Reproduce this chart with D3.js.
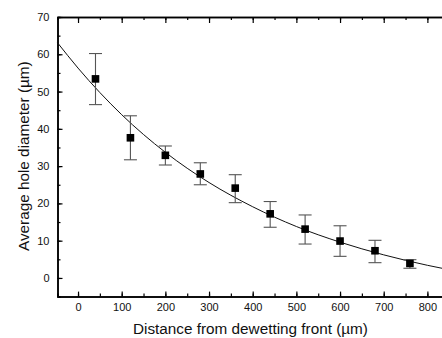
<!DOCTYPE html>
<html>
<head>
<meta charset="utf-8">
<script src="https://cdn.jsdelivr.net/npm/d3@7"></script>
<style>
  body { margin: 0; background: #fff; }
  svg { display: block; font-family: "Liberation Sans", Arial, sans-serif; }
</style>
</head>
<body>
<div id="chart"></div>
<script>
// measured points
const distance = [40, 120, 200, 280, 360, 440, 520, 600, 680, 760];
const diameter = [53.4, 37.6, 32.9, 27.9, 24.1, 17.2, 13.1, 9.9, 7.3, 3.9];
const errLow = [46.5, 31.7, 30.3, 25.0, 20.2, 13.6, 9.1, 5.8, 4.1, 2.6];
const errHigh = [60.2, 43.5, 35.4, 30.9, 27.7, 20.5, 16.9, 14.0, 10.1, 4.9];

// fitted curve
const fitX = [-47, 0, 100, 200, 300, 400, 500, 600, 700, 800, 850];
const fitY = [63.1, 56.3, 43.8, 33.7, 25.6, 19.1, 13.8, 9.6, 6.2, 3.4, 2.2];

const xTicks = [0, 100, 200, 300, 400, 500, 600, 700, 800];
const yTicks = [0, 10, 20, 30, 40, 50, 60, 70];

const width = 442, height = 338;
const plotLeft = 57.5, plotTop = 17, plotBottom = 296.6;

const svg = d3.select('#chart').append('svg')
  .attr('width', width).attr('height', height);

const x = d3.scaleLinear().domain([-47, 850]).range([plotLeft, plotLeft + 897 * 0.4367]);
const y = d3.scaleLinear().domain([-5, 70]).range([plotBottom, plotTop]);

const minorX = d3.range(-50, 851, 50).filter(v => v > -47);
const minorY = d3.range(-5, 71, 5);

function styleAxis(g) {
  g.select('.domain').attr('stroke', '#000').attr('stroke-width', 1.5);
  g.selectAll('.tick line').attr('stroke', '#000').attr('stroke-width', 1.2);
  g.selectAll('text').attr('font-size', '11px').attr('fill', '#111')
    .attr('font-family', '"Liberation Sans", Arial, sans-serif');
}

// minor ticks first
svg.append('g').attr('transform', `translate(0,${plotBottom})`)
  .call(d3.axisBottom(x).tickValues(minorX).tickSize(-3).tickFormat(''))
  .call(styleAxis);
svg.append('g').attr('transform', `translate(0,${plotTop})`)
  .call(d3.axisBottom(x).tickValues(minorX).tickSize(3).tickFormat(''))
  .call(styleAxis);
svg.append('g').attr('transform', `translate(${plotLeft},0)`)
  .call(d3.axisLeft(y).tickValues(minorY).tickSize(-3).tickFormat(''))
  .call(styleAxis);

// major ticks
svg.append('g').attr('transform', `translate(0,${plotBottom})`)
  .call(d3.axisBottom(x).tickValues(xTicks).tickSizeInner(-5).tickSizeOuter(0).tickPadding(7))
  .call(styleAxis);
svg.append('g').attr('transform', `translate(0,${plotTop})`)
  .call(d3.axisBottom(x).tickValues(xTicks).tickSizeInner(6).tickSizeOuter(0).tickFormat(''))
  .call(styleAxis);
svg.append('g').attr('transform', `translate(${plotLeft},0)`)
  .call(d3.axisLeft(y).tickValues(yTicks).tickSizeInner(-5).tickSizeOuter(0).tickPadding(8))
  .call(styleAxis);

// fit curve
const fit = fitX.map((v, i) => [v, fitY[i]]);
svg.append('path')
  .datum(fit)
  .attr('fill', 'none')
  .attr('stroke', '#111')
  .attr('stroke-width', 1)
  .attr('d', d3.line().x(d => x(d[0])).y(d => y(d[1])).curve(d3.curveMonotoneX));

// error bars
const pts = distance.map((d, i) => ({ d: d, v: diameter[i], lo: errLow[i], hi: errHigh[i] }));
const eb = svg.append('g').attr('stroke', '#555').attr('stroke-width', 1.1);
eb.selectAll('.bar').data(pts).join('line').attr('class', 'bar')
  .attr('x1', p => x(p.d)).attr('x2', p => x(p.d))
  .attr('y1', p => y(p.lo)).attr('y2', p => y(p.hi));
eb.selectAll('.capHi').data(pts).join('line').attr('class', 'capHi')
  .attr('x1', p => x(p.d) - 6.5).attr('x2', p => x(p.d) + 6.5)
  .attr('y1', p => y(p.hi)).attr('y2', p => y(p.hi));
eb.selectAll('.capLo').data(pts).join('line').attr('class', 'capLo')
  .attr('x1', p => x(p.d) - 6.5).attr('x2', p => x(p.d) + 6.5)
  .attr('y1', p => y(p.lo)).attr('y2', p => y(p.lo));

// markers
svg.append('g').selectAll('rect').data(pts).join('rect')
  .attr('x', p => x(p.d) - 3.8).attr('y', p => y(p.v) - 3.8)
  .attr('width', 7.6).attr('height', 7.6)
  .attr('fill', '#000');

// axis titles
svg.append('text')
  .attr('x', 133).attr('y', 334)
  .attr('font-size', '15.3px').attr('fill', '#111')
  .text('Distance from dewetting front (µm)');

svg.append('text')
  .attr('transform', 'translate(29,251) rotate(-90)')
  .attr('font-size', '15.3px').attr('fill', '#111')
  .text('Average hole diameter (µm)');
</script>
</body>
</html>
